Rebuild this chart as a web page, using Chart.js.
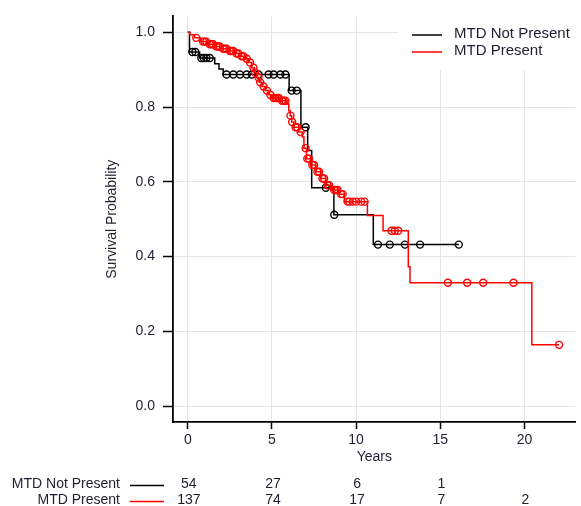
<!DOCTYPE html>
<html>
<head>
<meta charset="utf-8">
<script src="https://cdn.jsdelivr.net/npm/chart.js@4.4.0/dist/chart.umd.min.js"></script>
<style>
  html, body { margin: 0; padding: 0; background: #fff; }
  #wrap { width: 581px; height: 506px; position: relative; }
</style>
</head>
<body>
<div id="wrap"><canvas id="c" width="581" height="506"></canvas></div>
<script>
// ---- data ----
const seriesNames = ['MTD Not Present', 'MTD Present'];

const blackTimes = [0, 0.1, 0.7, 1.6, 1.85, 2.1, 6.02, 6.72, 7.12, 7.36, 8.68, 11.02, 16.1];
const blackSurv  = [1.0, 0.947, 0.931, 0.916, 0.902, 0.887, 0.844, 0.746, 0.684, 0.584, 0.512, 0.432, 0.432];
const blackCensor = [0.27, 0.45, 0.8, 0.95, 1.1, 1.3, 2.3, 2.7, 3.1, 3.5, 3.8, 4.2, 4.8, 5.1, 5.5, 5.8,
                     6.17, 6.47, 7.0, 8.2, 8.7, 11.3, 12.0, 12.9, 13.8, 16.1];

const redTimes = [0, 0.12, 0.4, 0.75, 1.2, 1.6, 2.0, 2.4, 2.8, 3.1, 3.4, 3.6, 3.8, 3.95, 4.1, 4.25, 4.4,
                  4.6, 4.8, 5.0, 5.5, 5.9, 6.0, 6.08, 6.17, 6.3, 6.6, 6.8, 6.9, 7.05, 7.3, 7.6, 7.9, 8.2,
                  8.5, 9.0, 9.3, 10.67, 11.6, 13.1, 13.2, 20.44, 22.06];
const redSurv  = [1.0, 0.993, 0.985, 0.975, 0.968, 0.962, 0.956, 0.950, 0.943, 0.936, 0.929, 0.919, 0.905,
                  0.892, 0.879, 0.866, 0.855, 0.844, 0.833, 0.824, 0.817, 0.808, 0.790, 0.777, 0.760, 0.746,
                  0.733, 0.720, 0.690, 0.662, 0.645, 0.627, 0.609, 0.591, 0.578, 0.567, 0.547, 0.510, 0.469,
                  0.373, 0.330, 0.164, 0.164];
const redCensor = [0.5, 0.9, 1.0, 1.1, 1.3, 1.4, 1.5, 1.7, 1.8, 1.9, 2.1, 2.2, 2.3, 2.5, 2.6, 2.7, 2.9, 3.0,
                   3.2, 3.3, 3.5, 3.7, 3.9, 4.0, 4.2, 4.3, 4.5, 4.7, 4.9, 5.1, 5.2, 5.3, 5.4, 5.6, 5.7, 5.8,
                   6.1, 6.2, 6.4, 6.5, 6.7, 7.0, 7.1, 7.2, 7.4, 7.5, 7.7, 7.8, 8.0, 8.1, 8.3, 8.4, 8.7, 8.8,
                   8.9, 9.1, 9.2, 9.5, 9.6, 9.8, 10.0, 10.3, 10.5, 12.1, 12.3, 12.5, 15.45, 16.6, 17.55,
                   19.35, 22.06];

const xTicks = [0, 5, 10, 15, 20];
const yTicks = [0, 0.2, 0.4, 0.6, 0.8, 1.0];
const riskTimes = [0, 5, 10, 15, 20];
const riskNotPresent = [54, 27, 6, 1];
const riskPresent = [137, 74, 17, 7, 2];

// ---- helpers ----
function toPoints(ts, ss) { return ts.map((t, i) => ({ x: t, y: ss[i] })); }
function survAt(ts, ss, t) {
  let v = ss[0];
  for (let i = 0; i < ts.length; i++) { if (ts[i] <= t) v = ss[i]; }
  return v;
}
function censorPoints(cs, ts, ss) { return cs.map(t => ({ x: t, y: survAt(ts, ss, t) })); }

const FONT = "'Liberation Sans', Arial, Helvetica, sans-serif";
const TXT = '#1e1e2e';
Chart.defaults.font.family = FONT;
Chart.defaults.color = TXT;

const legendPlugin = {
  id: 'kmLegend',
  afterDraw(chart) {
    const ctx = chart.ctx;
    ctx.save();
    ctx.fillStyle = '#ffffff';
    ctx.fillRect(398, 16, 183, 54);
    const items = [
      { label: seriesNames[0], color: '#000000', y: 35 },
      { label: seriesNames[1], color: '#ff0000', y: 52 }
    ];
    ctx.font = '15px ' + FONT;
    ctx.textBaseline = 'middle';
    ctx.textAlign = 'left';
    items.forEach(it => {
      ctx.strokeStyle = it.color;
      ctx.lineWidth = 1.5;
      ctx.beginPath(); ctx.moveTo(412, it.y); ctx.lineTo(442, it.y); ctx.stroke();
      ctx.fillStyle = TXT;
      ctx.fillText(it.label, 454, it.y - 1);
    });
    ctx.restore();
  }
};

const riskPlugin = {
  id: 'riskTable',
  afterDraw(chart) {
    const ctx = chart.ctx;
    const xs = chart.scales.x;
    ctx.save();
    ctx.font = '14px ' + FONT;
    ctx.textBaseline = 'middle';
    const rows = [
      { label: seriesNames[0], color: '#000000', vals: riskNotPresent, y: 484 },
      { label: seriesNames[1], color: '#ff0000', vals: riskPresent, y: 500 }
    ];
    rows.forEach(r => {
      ctx.fillStyle = TXT;
      ctx.textAlign = 'right';
      ctx.fillText(r.label, 120, r.y);
      ctx.strokeStyle = r.color;
      ctx.lineWidth = 1.5;
      ctx.beginPath(); ctx.moveTo(130, r.y + 1.5); ctx.lineTo(164, r.y + 1.5); ctx.stroke();
      ctx.textAlign = 'center';
      ctx.fillStyle = TXT;
      r.vals.forEach((v, i) => ctx.fillText(String(v), xs.getPixelForValue(riskTimes[i]) + 1, r.y));
    });
    ctx.restore();
  }
};

new Chart(document.getElementById('c'), {
  type: 'scatter',
  data: {
    datasets: [
      { type: 'line', label: seriesNames[1], data: toPoints(redTimes, redSurv), stepped: true,
        borderColor: '#ff0000', borderWidth: 1.5, pointRadius: 0, fill: false, order: 1 },
      { type: 'scatter', label: seriesNames[1] + ' censored', data: censorPoints(redCensor, redTimes, redSurv),
        pointStyle: 'circle', pointRadius: 3.5, borderColor: '#ff0000', borderWidth: 1.4,
        backgroundColor: 'rgba(0,0,0,0)', showLine: false, order: 0 },
      { type: 'line', label: seriesNames[0], data: toPoints(blackTimes, blackSurv), stepped: true,
        borderColor: '#000000', borderWidth: 1.5, pointRadius: 0, fill: false, order: 3 },
      { type: 'scatter', label: seriesNames[0] + ' censored', data: censorPoints(blackCensor, blackTimes, blackSurv),
        pointStyle: 'circle', pointRadius: 3.5, borderColor: '#000000', borderWidth: 1.4,
        backgroundColor: 'rgba(0,0,0,0)', showLine: false, order: 2 }
    ]
  },
  options: {
    responsive: false,
    animation: false,
    events: [],
    layout: { padding: { left: 104, right: 0, top: 13, bottom: 40 } },
    plugins: { legend: { display: false }, tooltip: { enabled: false } },
    scales: {
      x: {
        type: 'linear', min: -0.88, max: 23.04,
        afterBuildTicks: s => { s.ticks = xTicks.map(v => ({ value: v })); },
        afterFit: s => { s.height = 44; },
        ticks: { font: { size: 14 }, color: TXT, padding: 3, maxRotation: 0,
                 callback: v => String(v) },
        grid: { color: '#e5e5e5', lineWidth: 1, tickLength: 7, tickColor: '#000', tickWidth: 1.5 },
        border: { display: true, color: '#000', width: 1.8 },
        title: { display: true, text: 'Years', font: { size: 14 }, color: TXT, padding: 0 }
      },
      y: {
        type: 'linear', min: -0.0424, max: 1.0424,
        afterBuildTicks: s => { s.ticks = yTicks.map(v => ({ value: v })); },
        afterFit: s => { s.width = 69; },
        ticks: { font: { size: 14 }, color: TXT, padding: 8, callback: v => Number(v).toFixed(1) },
        grid: { color: '#e5e5e5', lineWidth: 1, tickLength: 10, tickColor: '#000', tickWidth: 1.5 },
        border: { display: true, color: '#000', width: 1.8 },
        title: { display: true, text: 'Survival Probability', font: { size: 14 }, color: TXT, padding: 0 }
      }
    }
  },
  plugins: [legendPlugin, riskPlugin]
});
</script>
</body>
</html>
